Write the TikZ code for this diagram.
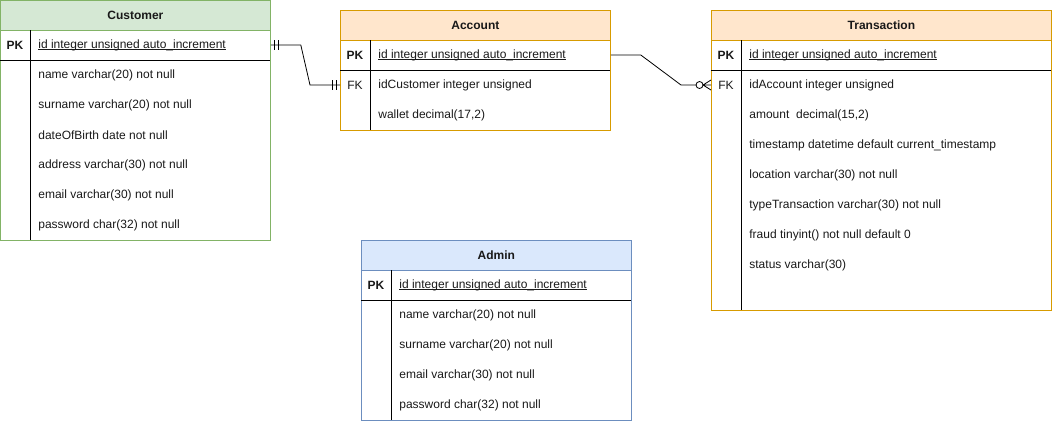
\documentclass[tikz,border=0pt]{standalone}
\usepackage{fontspec}
\setmainfont{Liberation Sans}
\usetikzlibrary{calc}

\definecolor{cusfill}{HTML}{D5E8D4}
\definecolor{cusline}{HTML}{82B366}
\definecolor{accfill}{HTML}{FFE6CC}
\definecolor{accline}{HTML}{D79B00}
\definecolor{admfill}{HTML}{DAE8FC}
\definecolor{admline}{HTML}{6C8EBF}

\newcommand{\pkline}[1]{\setbox0\hbox{#1}\rlap{\rule[-2pt]{\wd0}{0.7pt}}\box0}

\tikzset{
  every node/.style={font=\fontsize{12}{14}\selectfont,inner sep=0pt,text=black!90},
  hdr/.style={draw,minimum height=30,anchor=north west,font=\fontsize{12}{14}\selectfont\bfseries},
  body/.style={draw,anchor=north west},
  fld/.style={anchor=west},
  keyf/.style={font=\fontsize{12}{14}\selectfont\bfseries},
  rel/.style={line width=0.8pt,black}
}

\begin{document}
\begin{tikzpicture}[x=1pt,y=-1pt,line width=0.8pt]
\useasboundingbox (0,0) rectangle (1052,421);

% Customer
\node[body,cusline,minimum width=270,minimum height=210] (cusbody) at (0,30) {};
\node[hdr,draw=cusline,fill=cusfill,minimum width=270] (cus) at (0,0) {Customer};
\draw (0,60)--(270,60);
\draw (30,30)--(30,240);
\node[keyf] (cuspk) at (15,45) {PK};
\node[fld] (cusid) at (38,45) {\pkline{id integer unsigned auto\_increment}};
\foreach \t [count=\i] in {name varchar(20) not null,surname varchar(20) not null,
  dateOfBirth date not null,address varchar(30) not null,email varchar(30) not null,
  password char(32) not null}
  \node[fld] (cusf\i) at (38,45+30*\i) {\t};

% Account
\node[body,accline,minimum width=270,minimum height=90] (accbody) at (340,40) {};
\node[hdr,draw=accline,fill=accfill,minimum width=270] (acc) at (340,10) {Account};
\draw (340,70)--(610,70);
\draw (370,40)--(370,130);
\node[keyf] (accpk) at (355,55) {PK};
\node[fld] (accid) at (378,55) {\pkline{id integer unsigned auto\_increment}};
\node (accfk) at (355,85) {FK};
\node[fld] (accf1) at (378,85) {idCustomer integer unsigned};
\node[fld] (accf2) at (378,115) {wallet decimal(17,2)};

% Transaction
\node[body,accline,minimum width=340,minimum height=270] (trbody) at (711,40) {};
\node[hdr,draw=accline,fill=accfill,minimum width=340] (tr) at (711,10) {Transaction};
\draw (711,70)--(1051,70);
\draw (741,40)--(741,310);
\node[keyf] (trpk) at (726,55) {PK};
\node[fld] (trid) at (749,55) {\pkline{id integer unsigned auto\_increment}};
\node (trfk) at (726,85) {FK};
\foreach \t [count=\i] in {idAccount integer unsigned,{amount\ \ decimal(15,2)},
  timestamp datetime default current\_timestamp,location varchar(30) not null,
  typeTransaction varchar(30) not null,fraud tinyint() not null default 0,
  status varchar(30)}
  \node[fld] (trf\i) at (749,55+30*\i) {\t};

% Admin
\node[body,admline,minimum width=270,minimum height=150] (admbody) at (361,270) {};
\node[hdr,draw=admline,fill=admfill,minimum width=270] (adm) at (361,240) {Admin};
\draw (361,300)--(631,300);
\draw (391,270)--(391,420);
\node[keyf] (admpk) at (376,285) {PK};
\node[fld] (admid) at (399,285) {\pkline{id integer unsigned auto\_increment}};
\foreach \t [count=\i] in {name varchar(20) not null,surname varchar(20) not null,
  email varchar(30) not null,password char(32) not null}
  \node[fld] (admf\i) at (399,285+30*\i) {\t};

% relations
\coordinate (c1) at (cusbody.east |- cuspk);
\coordinate (c2) at (accbody.west |- accfk);
\draw[rel] (c1)--++(30,0)--($(c2)+(-30,0)$)--(c2);
\draw[rel] ($(c1)+(4,-5)$)--++(0,10) ($(c1)+(8,-5)$)--++(0,10);
\draw[rel] ($(c2)+(-4,-5)$)--++(0,10) ($(c2)+(-8,-5)$)--++(0,10);

\coordinate (a1) at (accbody.east |- accpk);
\coordinate (a2) at (trbody.west |- trfk);
\draw[rel] (a1)--++(30,0)--($(a2)+(-30,0)$)--($(a2)+(-8,0)$);
\draw[rel,fill=white] ($(a2)+(-11.5,0)$) circle (3.5);
\draw[rel] ($(a2)+(-8,0)$)--(a2) ($(a2)+(-8,0)$)--($(a2)+(0,-5)$)
  ($(a2)+(-8,0)$)--($(a2)+(0,5)$);
\end{tikzpicture}
\end{document}
